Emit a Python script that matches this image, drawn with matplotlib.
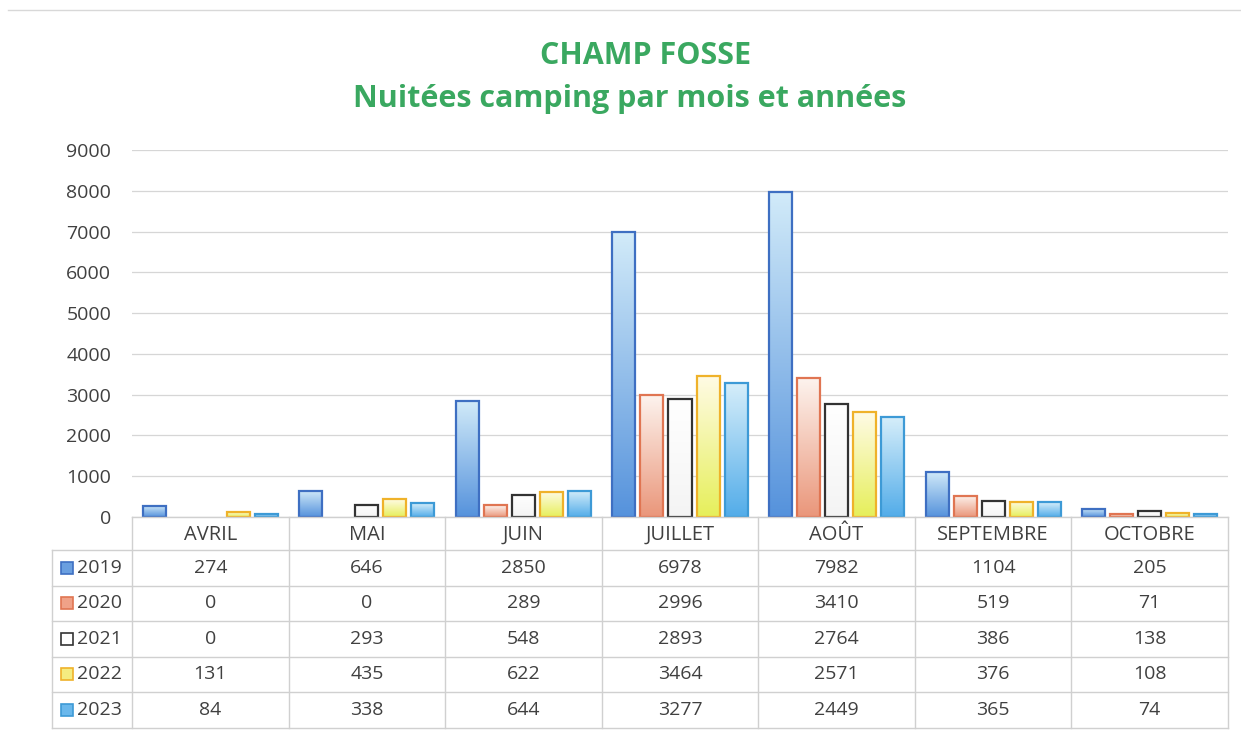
import numpy as np
import matplotlib
matplotlib.use("Agg")
import matplotlib.pyplot as plt
from matplotlib.colors import LinearSegmentedColormap
from matplotlib.patches import Rectangle

months = ["AVRIL", "MAI", "JUIN", "JUILLET", "AOÛT", "SEPTEMBRE", "OCTOBRE"]
years = ["2019", "2020", "2021", "2022", "2023"]
v2019 = [274, 646, 2850, 6978, 7982, 1104, 205]
v2020 = [0, 0, 289, 2996, 3410, 519, 71]
v2021 = [0, 293, 548, 2893, 2764, 386, 138]
v2022 = [131, 435, 622, 3464, 2571, 376, 108]
v2023 = [84, 338, 644, 3277, 2449, 365, 74]
series = [v2019, v2020, v2021, v2022, v2023]
yticks = [0, 1000, 2000, 3000, 4000, 5000, 6000, 7000, 8000, 9000]

# (top colour, bottom colour, edge colour)
styles = [
    ("#d2ebf9", "#5592dc", "#3e6fc2"),
    ("#fdf4ef", "#ea967a", "#e07552"),
    ("#ffffff", "#f4f4f4", "#333333"),
    ("#fffbe6", "#e6ef5a", "#efb22a"),
    ("#d6eefa", "#52ace9", "#3d9ad6"),
]
legend_fill = ["#6a9fe0", "#f0a288", "#ffffff", "#f5ec80", "#6ab8ec"]

W, H = 1241, 738
fig = plt.figure(figsize=(W / 100, H / 100), dpi=100)
fig.patch.set_facecolor("white")

x0, x1 = 132, 1228
y0, y9 = 517, 150
ax = fig.add_axes([x0 / W, 1 - y0 / H, (x1 - x0) / W, (y0 - y9) / H])
ax.set_xlim(-0.5, len(months) - 0.5)
ax.set_ylim(0, 9000)
ax.set_yticks(yticks)
ax.set_yticklabels([str(t) for t in yticks], fontsize=14, color="#404040",
                   family="Open Sans")
ax.tick_params(axis="y", length=0, pad=15)
ax.set_xticks([])
for s in ax.spines.values():
    s.set_visible(False)
ax.grid(axis="y", color="#d6d6d6", linewidth=0.9)
ax.set_axisbelow(True)

n = len(series)
step = 0.179
width = 0.147
xs = np.arange(len(months))
grad = np.linspace(0, 1, 256).reshape(-1, 1)
for i, (vals, (ctop, cbot, cedge)) in enumerate(zip(series, styles)):
    cmap = LinearSegmentedColormap.from_list(f"g{i}", [cbot, ctop])
    offs = (i - (n - 1) / 2) * step
    vals_arr = np.array(vals, dtype=float)
    mask = vals_arr > 0
    bars = ax.bar(xs[mask] + offs, vals_arr[mask], width=width, color="none",
                  edgecolor=cedge, linewidth=1.6, zorder=3)
    for b in bars:
        bx, bw, v = b.get_x(), b.get_width(), b.get_height()
        ax.imshow(grad, cmap=cmap, aspect="auto", origin="lower",
                  extent=(bx, bx + bw, 0, v), zorder=2, interpolation="bilinear")
ax.set_xlim(-0.5, len(months) - 0.5)
ax.set_ylim(0, 9000)

# overlay for table and titles
ov = fig.add_axes([0, 0, 1, 1])
ov.set_xlim(0, W)
ov.set_ylim(H, 0)
ov.axis("off")
ov.patch.set_alpha(0)

green = "#3aa860"
ov.text(W / 2 + 25, 56, "CHAMP FOSSE", ha="center", va="center", fontsize=22,
        fontweight="bold", color=green, family="Open Sans")
ov.text(W / 2 + 9, 99, "Nuitées camping par mois et années", ha="center",
        va="center", fontsize=22, fontweight="bold", color=green, family="Open Sans")

# frame line at top
ov.plot([8, W], [10, 10], color="#d8d8d8", linewidth=1)

lc = "#d0d0d0"
tleft = 52
col_w = (x1 - x0) / len(months)
hdr_bot = 550
row_h = 35.5
nrows = len(years)
table_bot = hdr_bot + nrows * row_h
ov.plot([x0, x1], [y0, y0], color=lc, linewidth=1)
for r in range(nrows + 1):
    yy = hdr_bot + r * row_h
    ov.plot([tleft, x1], [yy, yy], color=lc, linewidth=1)
for c in range(len(months) + 1):
    xx = x0 + c * col_w
    ov.plot([xx, xx], [y0, table_bot], color=lc, linewidth=1)
ov.plot([tleft, tleft], [hdr_bot, table_bot], color=lc, linewidth=1)

tc = "#404040"
for c, m in enumerate(months):
    ov.text(x0 + (c + 0.5) * col_w, (y0 + hdr_bot) / 2 + 1, m, ha="center",
            va="center", fontsize=14.5, color=tc, family="Open Sans")
for r, (yr, vals) in enumerate(zip(years, series)):
    yc = hdr_bot + (r + 0.5) * row_h
    ov.add_patch(Rectangle((61, yc - 6), 12, 12, facecolor=legend_fill[r],
                           edgecolor=styles[r][2], linewidth=1.2))
    ov.text(77, yc, yr, ha="left", va="center", fontsize=14, color=tc,
            family="Open Sans")
    for c, v in enumerate(vals):
        ov.text(x0 + (c + 0.5) * col_w, yc, str(v), ha="center", va="center",
                fontsize=14, color=tc, family="Open Sans")

fig.savefig("out.png", dpi=100, facecolor="white")
